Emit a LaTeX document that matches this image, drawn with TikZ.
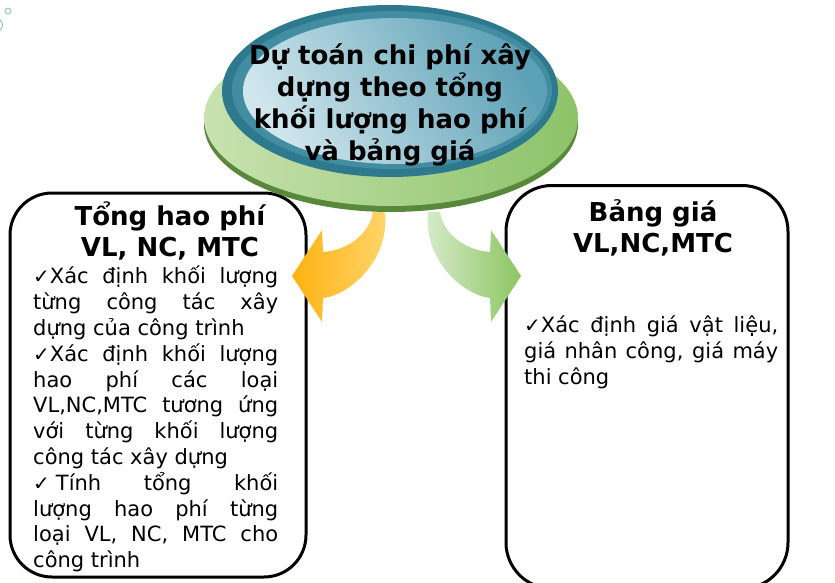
\documentclass[tikz,border=0pt]{standalone}
\usepackage{fontspec}
\setmainfont{DejaVu Sans}
\definecolor{tealdark}{RGB}{46,121,141}
\definecolor{tealmid}{RGB}{66,141,162}
\definecolor{teallight}{RGB}{208,230,237}
\definecolor{tealdeep}{RGB}{92,160,181}
\definecolor{grnlight}{RGB}{200,226,176}
\definecolor{grnmid}{RGB}{140,195,104}
\definecolor{grnrim}{RGB}{88,136,60}
\definecolor{orgdark}{RGB}{254,178,16}
\definecolor{orglight}{RGB}{255,214,110}
\definecolor{arrowpale}{RGB}{216,236,204}
\definecolor{arrowgrn}{RGB}{140,196,98}
\definecolor{dotblue}{RGB}{130,185,205}
\newcommand{\chk}{{\fontsize{20}{20}\selectfont ✓}}
\begin{document}
\begin{tikzpicture}
	[x=1pt,y=-1pt,
	roundbox/.style={draw,line width=3pt,rounded corners=42pt,fill=white},
	boxtitle/.style={font=\bfseries\fontsize{26}{31}\selectfont,align=center,inner sep=0pt},
	boxbody/.style={font=\fontsize{21}{25.8}\selectfont,align=justify,inner sep=0pt,anchor=north west}]
	\useasboundingbox (0,0) rectangle (835,583);
	% little bubbles in the corner
	\draw[dotblue,line width=0.8pt] (8,11) circle (3);
	\draw[dotblue,line width=0.8pt] (-4,25) circle (6.5);
	% the two boxes
	\node[roundbox,name=leftbox,minimum width=296pt,minimum height=384pt]at(158,385){};
	\node[roundbox,name=rightbox,minimum width=282pt,minimum height=403pt,rounded corners=46pt]at(647,387){};
	% curved block arrows
	\shade[left color=orgdark,right color=orglight]
		(385,212) -- (373,212) .. controls (370,232) and (350,250) .. (323,252)
		-- (322,230) -- (292,276) -- (322,322) -- (323,298)
		.. controls (350,295) and (390,260) .. (385,212) -- cycle;
	\shade[left color=arrowpale,right color=arrowgrn]
		(428,212) -- (440,212) .. controls (443,232) and (463,250) .. (490,252)
		-- (491,230) -- (521,276) -- (491,322) -- (490,298)
		.. controls (463,295) and (423,260) .. (428,212) -- cycle;
	% green disc with its rim
	\fill[grnrim] (391,124) ellipse [x radius=187, y radius=88];
	\shade[left color=grnlight,right color=grnmid] (391,118) ellipse [x radius=187, y radius=88];
	% blue lens
	\fill[tealdark] (390,91) ellipse [x radius=168, y radius=86];
	\fill[tealmid] (392,90) ellipse [x radius=160, y radius=79];
	\shade[left color=teallight,right color=tealdeep,shading angle=120] (395,91) ellipse [x radius=152, y radius=73];
	\node[boxtitle,name=maintitle,font=\bfseries\fontsize{26}{32}\selectfont]at(390,105)
		{Dự toán chi phí xây\\dựng theo tổng\\khối lượng hao phí\\và bảng giá};
	% left box text
	\node[boxtitle,name=lefttitle]at(170,231){Tổng hao phí\\VL, NC, MTC};
	\node[boxbody,text width=245pt,name=leftbody]at(33,266){%
		\chk Xác định khối lượng\linebreak từng công tác xây\linebreak dựng của công trình\par
		\chk Xác định khối lượng\linebreak hao phí các loại\linebreak VL,NC,MTC tương ứng\linebreak với từng khối lượng\linebreak công tác xây dựng\par
		\chk\kern6pt Tính tổng khối\linebreak lượng hao phí từng\linebreak loại VL, NC, MTC cho\linebreak công trình};
	% right box text
	\node[boxtitle,name=righttitle]at(653,228){Bảng giá\\VL,NC,MTC};
	\node[boxbody,text width=254pt,name=rightbody]at(524,316){%
		\chk Xác định giá vật liệu,\linebreak giá nhân công, giá máy\linebreak thi công};
\end{tikzpicture}
\end{document}
